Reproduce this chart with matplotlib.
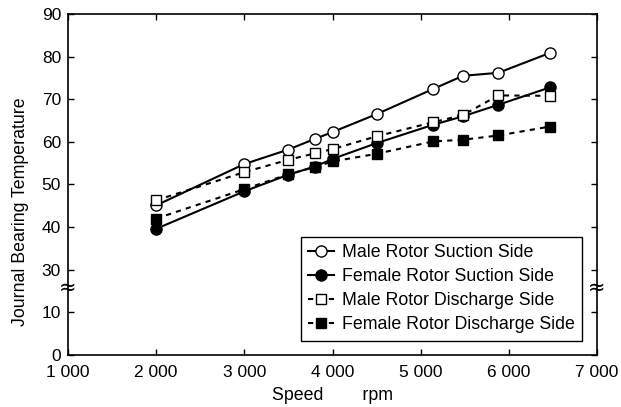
import matplotlib
matplotlib.use("Agg")
import matplotlib.pyplot as plt

plt.rcParams["font.family"] = ["Liberation Sans", "DejaVu Sans"]

#----------------------------------data------------------------------------
speed = [2000, 3000, 3500, 3800, 4000, 4500, 5140, 5480, 5880, 6470]
male_suction = [45.1, 54.8, 58.2, 60.7, 62.3, 66.5, 72.4, 75.5, 76.2, 80.9]
female_suction = [39.6, 48.4, 52.3, 54.2, 56.0, 59.7, 64.0, 66.0, 68.7, 72.8]
male_discharge = [46.3, 52.9, 55.8, 57.3, 58.3, 61.3, 64.6, 66.3, 70.9, 70.8]
female_discharge = [42.0, 48.9, 52.4, 54.1, 55.4, 57.2, 60.1, 60.5, 61.5, 63.6]

x_ticks = [1000, 2000, 3000, 4000, 5000, 6000, 7000]
x_tick_labels = ["1 000", "2 000", "3 000", "4 000", "5 000", "6 000", "7 000"]
# broken y axis: positions 10 and 20 carry the labels 0 and 10
y_ticks = [10, 20, 30, 40, 50, 60, 70, 80, 90]
y_tick_labels = ["0", "10", "30", "40", "50", "60", "70", "80", "90"]

FS = 12.5
LFS = 12.8

#--------------------------------figure------------------------------------
fig = plt.figure(figsize=(6.21, 4.07), dpi=100)
ax = fig.add_axes([0.1095, 0.1278, 0.8519, 0.8378])

ax.plot(speed, male_suction, "-", color="black", lw=1.5, marker="o",
        ms=8, mfc="white", mec="black", mew=1, label="Male Rotor Suction Side")
ax.plot(speed, female_suction, "-", color="black", lw=1.5, marker="o",
        ms=8, mfc="black", mec="black", label="Female Rotor Suction Side")
ax.plot(speed, male_discharge, "--", color="black", lw=1.5, dashes=(2.5, 2.5),
        marker="s", ms=7.5, mfc="white", mec="black", mew=1,
        label="Male Rotor Discharge Side")
ax.plot(speed, female_discharge, "--", color="black", lw=1.5, dashes=(2.5, 2.5),
        marker="s", ms=7.5, mfc="black", mec="black",
        label="Female Rotor Discharge Side")

ax.set_xlim(1000, 7000)
ax.set_ylim(10, 90)
ax.set_xticks(x_ticks)
ax.set_xticklabels(x_tick_labels)
ax.set_yticks(y_ticks)
ax.set_yticklabels(y_tick_labels)
ax.tick_params(direction="in", top=True, right=True, length=4,
               labelsize=FS, width=1)
ax.tick_params(axis="x", pad=7)
ax.tick_params(axis="y", pad=5)
for s in ax.spines.values():
    s.set_linewidth(1.2)

ax.set_xlabel("Speed        rpm", fontsize=LFS, labelpad=5)
ax.set_ylabel("Journal Bearing Temperature", fontsize=LFS)
ax.yaxis.set_label_coords(-0.074, 0.42)

# axis break marks
for xb in (0, 1):
    ax.text(xb, 25.7, "≈", transform=ax.get_yaxis_transform(), fontsize=15,
            ha="center", va="center", clip_on=False,
            family="DejaVu Sans")

leg = ax.legend(loc="upper right", bbox_to_anchor=(0.9716, 0.346),
                borderaxespad=0, fontsize=LFS, handlelength=1.45,
                handletextpad=0.45, labelspacing=0.4, borderpad=0.4,
                fancybox=False, edgecolor="black", framealpha=1)
leg.get_frame().set_linewidth(1)

fig.savefig("out.png", dpi=100)
